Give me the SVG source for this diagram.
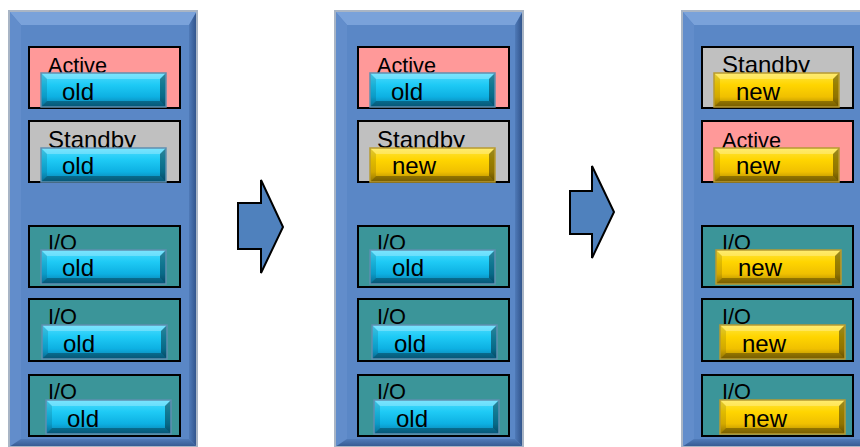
<svg xmlns="http://www.w3.org/2000/svg" xmlns:xlink="http://www.w3.org/1999/xlink" width="860" height="447" viewBox="0 0 860 447">
<style>
.t{font-family:"Liberation Sans",Arial,sans-serif;font-size:22px;fill:#000}
.s{font-size:24px}
.b{font-family:"Liberation Sans",Arial,sans-serif;font-size:24px;fill:#000}
.box{stroke:#000;stroke-width:2}
.act{fill:#ff9999}
.stb{fill:#c0c0c0}
.io{fill:#3b9599}
.arrow{fill:#4f81bd;stroke:#000;stroke-width:2;stroke-linejoin:miter}
</style>
<defs>
<linearGradient id="gCyan" x1="0" y1="0" x2="0" y2="1">
<stop offset="0" stop-color="#4fdcff"/>
<stop offset="0.35" stop-color="#1ecaf5"/>
<stop offset="0.7" stop-color="#0db0e2"/>
<stop offset="1" stop-color="#0a7aa8"/>
</linearGradient>
<linearGradient id="gGold" x1="0" y1="0" x2="0" y2="1">
<stop offset="0" stop-color="#ffe640"/>
<stop offset="0.35" stop-color="#ffd500"/>
<stop offset="0.7" stop-color="#f0c000"/>
<stop offset="1" stop-color="#a88400"/>
</linearGradient>
<linearGradient id="gRight" x1="0" y1="0" x2="1" y2="0">
<stop offset="0" stop-color="#4f7ab8"/>
<stop offset="1" stop-color="#2e5087"/>
</linearGradient>
<linearGradient id="gBottom" x1="0" y1="0" x2="0" y2="1">
<stop offset="0" stop-color="#4f7ab8"/>
<stop offset="1" stop-color="#34588f"/>
</linearGradient>
<g id="bevel">
<polygon points="0,0 125,0 119,6 6,6" fill="#fff" fill-opacity="0.25"/>
<polygon points="0,34 125,34 119,28 6,28" fill="#000" fill-opacity="0.3"/>
<polygon points="0,0 6,6 6,28 0,34" fill="#000" fill-opacity="0.12"/>
<polygon points="125,0 119,6 119,28 125,34" fill="#000" fill-opacity="0.4"/>
</g>
<g id="btnOld">
<rect x="0" y="0" width="125" height="34" fill="url(#gCyan)"/>
<use xlink:href="#bevel"/>
<rect x="0" y="0" width="125" height="34" fill="none" stroke="#5f8fb0" stroke-width="1.5"/>
</g>
<g id="btnNew">
<rect x="0" y="0" width="125" height="34" fill="url(#gGold)"/>
<use xlink:href="#bevel"/>
<rect x="0" y="0" width="125" height="34" fill="none" stroke="#b89a30" stroke-width="1.5"/>
</g>
<g id="panel">
<rect x="0" y="0" width="188" height="436" fill="#5a87c6"/>
<polygon points="0,0 188,0 180,14 12,14" fill="#7aa2da"/>
<polygon points="0,0 12,14 12,428 0,436" fill="#628dcb"/>
<polygon points="188,0 180,14 180,428 188,436" fill="url(#gRight)"/>
<polygon points="0,436 188,436 180,428 12,428" fill="url(#gBottom)"/>
<rect x="0" y="0" width="188" height="436" fill="none" stroke="#a9b5c5" stroke-width="2"/>
</g>
</defs>
<rect width="860" height="447" fill="#fff"/>

<g id="panel1">
<use xlink:href="#panel" x="9" y="11"/>
<g id="p1-active"><rect class="box act" x="29" y="47" width="151" height="61"/><text class="t" x="48" y="73" textLength="59" lengthAdjust="spacingAndGlyphs">Active</text><use xlink:href="#btnOld" x="41" y="73"/><text class="b" x="62" y="100">old</text></g>
<g id="p1-standby"><rect class="box stb" x="29" y="121" width="151" height="61"/><text class="t s" x="48" y="148" textLength="88" lengthAdjust="spacingAndGlyphs">Standby</text><use xlink:href="#btnOld" x="41" y="148"/><text class="b" x="62" y="174">old</text></g>
<g id="p1-io1"><rect class="box io" x="29" y="226" width="151" height="61"/><text class="t" x="48" y="250" textLength="29" lengthAdjust="spacingAndGlyphs">I/O</text><use xlink:href="#btnOld" x="41" y="250"/><text class="b" x="62" y="276">old</text></g>
<g id="p1-io2"><rect class="box io" x="29" y="299" width="151" height="62"/><text class="t" x="48" y="324" textLength="29" lengthAdjust="spacingAndGlyphs">I/O</text><use xlink:href="#btnOld" x="42" y="325"/><text class="b" x="63" y="352">old</text></g>
<g id="p1-io3"><rect class="box io" x="29" y="375" width="151" height="61"/><text class="t" x="48" y="399" textLength="29" lengthAdjust="spacingAndGlyphs">I/O</text><use xlink:href="#btnOld" x="46" y="400"/><text class="b" x="67" y="427">old</text></g>
</g>

<g id="panel2">
<use xlink:href="#panel" x="335" y="11"/>
<g id="p2-active"><rect class="box act" x="358" y="47" width="151" height="61"/><text class="t" x="377" y="73" textLength="59" lengthAdjust="spacingAndGlyphs">Active</text><use xlink:href="#btnOld" x="370" y="73"/><text class="b" x="391" y="100">old</text></g>
<g id="p2-standby"><rect class="box stb" x="358" y="121" width="151" height="61"/><text class="t s" x="377" y="148" textLength="88" lengthAdjust="spacingAndGlyphs">Standby</text><use xlink:href="#btnNew" x="370" y="148"/><text class="b" x="392" y="174">new</text></g>
<g id="p2-io1"><rect class="box io" x="358" y="226" width="151" height="61"/><text class="t" x="377" y="250" textLength="29" lengthAdjust="spacingAndGlyphs">I/O</text><use xlink:href="#btnOld" x="370" y="250"/><text class="b" x="392" y="276">old</text></g>
<g id="p2-io2"><rect class="box io" x="358" y="299" width="151" height="62"/><text class="t" x="377" y="324" textLength="29" lengthAdjust="spacingAndGlyphs">I/O</text><use xlink:href="#btnOld" x="372" y="325"/><text class="b" x="394" y="352">old</text></g>
<g id="p2-io3"><rect class="box io" x="358" y="375" width="151" height="61"/><text class="t" x="377" y="399" textLength="29" lengthAdjust="spacingAndGlyphs">I/O</text><use xlink:href="#btnOld" x="374" y="400"/><text class="b" x="396" y="427">old</text></g>
</g>

<g id="panel3">
<use xlink:href="#panel" x="682" y="11"/>
<g id="p3-standby"><rect class="box stb" x="702" y="47" width="151" height="61"/><text class="t s" x="722" y="73" textLength="88" lengthAdjust="spacingAndGlyphs">Standby</text><use xlink:href="#btnNew" x="714" y="73"/><text class="b" x="736" y="100">new</text></g>
<g id="p3-active"><rect class="box act" x="702" y="121" width="151" height="61"/><text class="t" x="722" y="148" textLength="59" lengthAdjust="spacingAndGlyphs">Active</text><use xlink:href="#btnNew" x="714" y="148"/><text class="b" x="736" y="174">new</text></g>
<g id="p3-io1"><rect class="box io" x="702" y="226" width="151" height="61"/><text class="t" x="722" y="250" textLength="29" lengthAdjust="spacingAndGlyphs">I/O</text><use xlink:href="#btnNew" x="716" y="250"/><text class="b" x="738" y="276">new</text></g>
<g id="p3-io2"><rect class="box io" x="702" y="299" width="151" height="62"/><text class="t" x="722" y="324" textLength="29" lengthAdjust="spacingAndGlyphs">I/O</text><use xlink:href="#btnNew" x="720" y="325"/><text class="b" x="742" y="352">new</text></g>
<g id="p3-io3"><rect class="box io" x="702" y="375" width="151" height="61"/><text class="t" x="722" y="399" textLength="29" lengthAdjust="spacingAndGlyphs">I/O</text><use xlink:href="#btnNew" x="720" y="400"/><text class="b" x="743" y="427">new</text></g>
</g>

<g id="connectors">
<polygon class="arrow" points="238,203 261,203 261,180 283,227 261,273 261,249 238,249"/>
<polygon class="arrow" points="570,191 592,191 592,166 614,212 592,258 592,234 570,234"/>
</g>
</svg>
